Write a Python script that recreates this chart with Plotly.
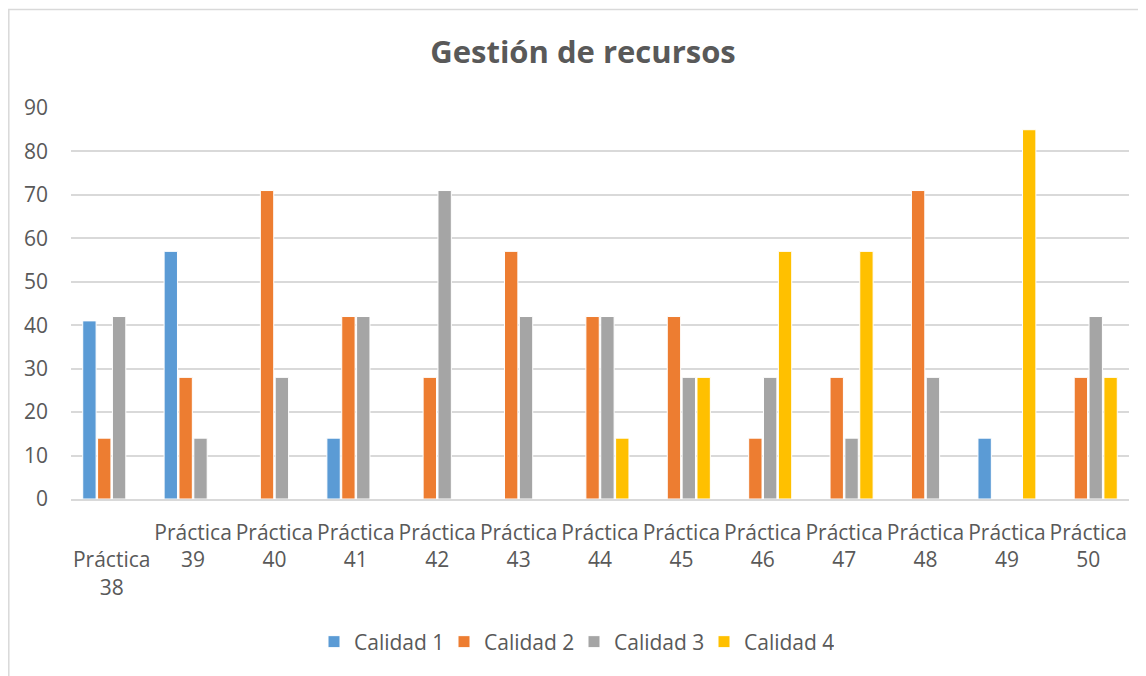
import plotly.graph_objects as go

# categories and series
practicas = ["Práctica 38", "Práctica 39", "Práctica 40", "Práctica 41", "Práctica 42",
             "Práctica 43", "Práctica 44", "Práctica 45", "Práctica 46", "Práctica 47",
             "Práctica 48", "Práctica 49", "Práctica 50"]
tick_labels = [" <br>Práctica<br>38", "Práctica<br>39", "Práctica<br>40", "Práctica<br>41",
               "Práctica<br>42", "Práctica<br>43", "Práctica<br>44", "Práctica<br>45",
               "Práctica<br>46", "Práctica<br>47", "Práctica<br>48", "Práctica<br>49",
               "Práctica<br>50"]
calidad_1 = [41, 57, 0, 14, 0, 0, 0, 0, 0, 0, 0, 14, 0]
calidad_2 = [14, 28, 71, 42, 28, 57, 42, 42, 14, 28, 71, 0, 28]
calidad_3 = [42, 14, 28, 42, 71, 42, 42, 28, 28, 14, 28, 0, 42]
calidad_4 = [0, 0, 0, 0, 0, 0, 14, 28, 57, 57, 0, 85, 28]

series = [("Calidad 1", calidad_1, "#5B9BD5"),
          ("Calidad 2", calidad_2, "#ED7D31"),
          ("Calidad 3", calidad_3, "#A5A5A5"),
          ("Calidad 4", calidad_4, "#FFC000")]

txt = "#595959"
font_family = "Open Sans"

fig = go.Figure()
for name, vals, col in series:
    fig.add_trace(go.Bar(x=practicas, y=vals, name=name,
                         marker=dict(color=col, line=dict(color="white", width=1))))

# page body has an 8px margin, so the figure sits 8px in from the window edge
OFF = 8
W, H = 1146 - OFF, 676 - OFF
L, R, T, B = 71 - OFF, 17, 108 - OFF, 177
pw, ph = W - L - R, H - T - B

def px_x(p):
    return (p - OFF - L) / pw

def px_y(p):
    return (H - B - (p - OFF)) / ph

fig.update_layout(
    width=W, height=H,
    margin=dict(l=L, r=R, t=T, b=B),
    paper_bgcolor="white", plot_bgcolor="white",
    font=dict(family=font_family, size=21, color=txt),
    title=dict(text="<b>Gestión de recursos</b>", x=(583 - OFF) / W, xanchor="center",
               y=1 - (52 - OFF) / H, yanchor="middle",
               font=dict(size=31, color=txt, family=font_family)),
    barmode="group", bargap=0.27, bargroupgap=0.1,
    legend=dict(orientation="h", x=px_x(574), xanchor="center",
                y=px_y(642), yanchor="middle", entrywidth=85,
                font=dict(size=21, color=txt), traceorder="normal"),
    shapes=[dict(type="rect", xref="paper", yref="paper",
                 x0=px_x(8.8), x1=px_x(1160), y0=px_y(690), y1=px_y(9.5),
                 line=dict(color="#D9D9D9", width=1.5), layer="below")],
)
fig.update_xaxes(tickvals=practicas, ticktext=tick_labels, showgrid=False,
                 showline=True, linecolor="#D9D9D9", linewidth=1.5,
                 ticklabelstandoff=14,
                 tickfont=dict(size=21, color=txt), fixedrange=True)
fig.update_yaxes(range=[0, 90], dtick=10, showgrid=True, gridcolor="#D9D9D9",
                 gridwidth=1.5, zeroline=False, showline=False,
                 ticklabelstandoff=22, tickfont=dict(size=21, color=txt))

fig.write_html("out.html")
